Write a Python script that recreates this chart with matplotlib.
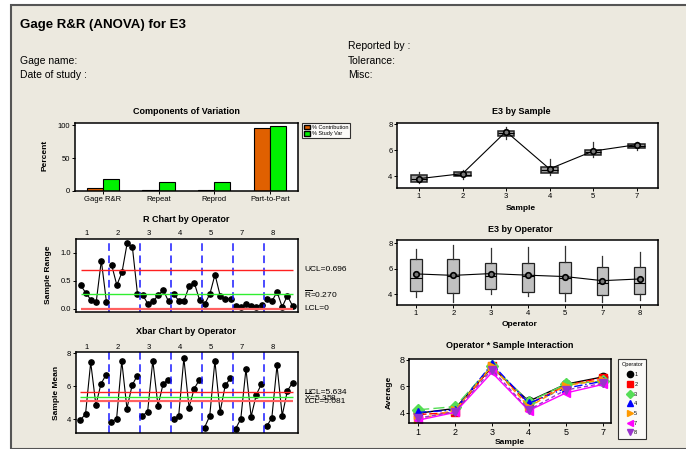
import matplotlib
matplotlib.use('Agg')
import matplotlib.pyplot as plt
from matplotlib.patches import Rectangle, Patch
from matplotlib.lines import Line2D
import numpy as np

plt.rcParams['font.family'] = ['Liberation Sans', 'DejaVu Sans']
plt.rcParams['mathtext.fontset'] = 'custom'
plt.rcParams['mathtext.rm'] = 'Liberation Sans'

W, H = 686, 449

operators = ['1', '2', '3', '4', '5', '7', '8']
samples = ['1', '2', '3', '4', '5', '7']

# components of variation (%)
components = ['Gage R&R', 'Repeat', 'Reprod', 'Part-to-Part']
pct_contribution = [3.4, 1.8, 1.7, 96.6]
pct_study_var = [18.4, 13.4, 13.0, 98.3]

# sample ranges, one row per operator, columns follow the sample order
ranges = [
    [0.42, 0.28, 0.155, 0.11, 0.86, 0.11],
    [0.78, 0.42, 0.65, 1.17, 1.11, 0.26],
    [0.24, 0.09, 0.13, 0.24, 0.33, 0.13],
    [0.26, 0.14, 0.14, 0.40, 0.46, 0.155],
    [0.08, 0.26, 0.61, 0.23, 0.18, 0.17],
    [0.05, 0.03, 0.08, 0.05, 0.03, 0.07],
    [0.18, 0.13, 0.30, 0.03, 0.23, 0.05],
]
# sample means, same layout
means = [
    [3.96, 4.32, 7.45, 4.87, 6.16, 6.71],
    [3.86, 4.02, 7.54, 4.65, 6.06, 6.65],
    [4.22, 4.46, 7.56, 4.81, 6.16, 6.40],
    [4.02, 4.20, 7.70, 4.71, 5.86, 6.38],
    [3.50, 4.20, 7.54, 4.44, 6.06, 6.48],
    [3.43, 4.02, 7.05, 4.16, 5.49, 6.14],
    [3.58, 4.08, 7.27, 4.22, 5.72, 6.22],
]
r_ucl, r_bar, r_lcl = 0.696, 0.270, 0.0
x_ucl, x_bar, x_lcl = 5.634, 5.358, 5.081

# box summaries by sample
smp_lo = [3.45, 3.75, 6.90, 4.10, 5.50, 6.00]
smp_q1 = [3.50, 3.98, 7.10, 4.20, 5.62, 6.15]
smp_med = [3.75, 4.10, 7.35, 4.45, 5.85, 6.35]
smp_q3 = [4.05, 4.28, 7.50, 4.70, 6.00, 6.50]
smp_hi = [4.30, 4.45, 7.80, 5.30, 6.60, 6.60]

# box summaries by operator
op_lo = [3.79, 3.40, 4.03, 3.87, 3.48, 3.40, 3.56]
op_q1 = [4.26, 4.10, 4.39, 4.18, 4.10, 3.92, 4.03]
op_med = [5.28, 5.40, 5.45, 5.40, 5.25, 4.86, 4.85]
op_q3 = [6.72, 6.72, 6.40, 6.40, 6.48, 6.12, 6.10]
op_hi = [7.50, 7.84, 7.58, 7.66, 7.74, 7.00, 7.27]

means = np.array(means)
ranges = np.array(ranges)

fig = plt.figure(figsize=(W / 100, H / 100), dpi=100)
fig.patch.set_facecolor('white')
fig.patches.append(Rectangle((11 / W, 0), 1, 1 - 5 / H, transform=fig.transFigure,
                             facecolor='#ECE9DF', edgecolor='#555555', lw=1.5, zorder=-10))


def px_axes(l, t, r, b):
    ax = fig.add_axes([l / W, 1 - b / H, (r - l) / W, (b - t) / H])
    for s in ax.spines.values():
        s.set_linewidth(1.1)
    ax.tick_params(direction='out', length=2, width=0.7, labelsize=5.5, pad=1.5)
    return ax


def ftext(x, y, s, **kw):
    kw.setdefault('va', 'center')
    fig.text(x / W, 1 - y / H, s, **kw)


# header
ftext(20, 25, 'Gage R&R (ANOVA) for E3', fontsize=9.5, fontweight='bold')
ftext(20, 61, 'Gage name:', fontsize=7.5)
ftext(20, 75, 'Date of study :', fontsize=7.5)
ftext(348, 46, 'Reported by :', fontsize=7.5)
ftext(348, 61, 'Tolerance:', fontsize=7.5)
ftext(348, 75, 'Misc:', fontsize=7.5)

title_kw = dict(fontsize=6.5, fontweight='bold', ha='center')
lab_kw = dict(fontsize=6, fontweight='bold', ha='center')

# Components of Variation
ax = px_axes(75, 122.7, 297.7, 190.7)
xc = np.arange(len(components))
ax.bar(xc, pct_contribution, width=-0.29, align='edge', color='#E06000', edgecolor='black', lw=0.8)
ax.bar(xc, pct_study_var, width=0.29, align='edge', color='#00F000', edgecolor='black', lw=0.8)
ax.set_xlim(-0.5, 3.5)
ax.set_ylim(0, 104)
ax.set_xticks(xc)
ax.set_xticklabels(components)
ax.set_yticks([0, 50, 100])
ftext(186, 112, 'Components of Variation', **title_kw)
ftext(45, 155, 'Percent', rotation=90, **lab_kw)
leg = ax.legend([Patch(facecolor='#E06000', edgecolor='black'), Patch(facecolor='#00F000', edgecolor='black')],
                ['% Contribution', '% Study Var'], loc='upper left',
                bbox_to_anchor=(302 / W, 1 - 123 / H), bbox_transform=fig.transFigure,
                fontsize=4, frameon=True, fancybox=False, borderaxespad=0, handlelength=1.2,
                handleheight=0.9, handletextpad=0.3, borderpad=0.3, labelspacing=0.2)
leg.get_frame().set_edgecolor('black')
leg.get_frame().set_linewidth(0.8)

# R chart and Xbar chart by operator
pos = np.arange(1, ranges.size + 1)
n = len(samples)


def control_chart(ax, data, ucl, cl, lcl, lbl_y):
    for i in range(len(operators)):
        ax.plot(pos[i * n:(i + 1) * n], data[i], '-o', color='black', lw=0.8, ms=3.8)
    for i in range(1, len(operators)):
        ax.axvline(i * n + 0.5, color='#1a1aff', lw=1.1, ls=(0, (5, 3)))
    ax.hlines([ucl, cl, lcl], 1, pos[-1], colors=['#ff2020', '#30ee30', '#ff6060'], lw=[1.0, 1.0, 1.6])
    ax.set_xlim(0.1, 43)
    ax.set_xticks([])
    tr = ax.get_xaxis_transform()
    for i, op in enumerate(operators):
        ax.text(i * n + 2.2, lbl_y, op, transform=tr, ha='center', va='center', fontsize=5.5)
    return matplotlib.transforms.blended_transform_factory(ax.transAxes, ax.transData)


ax = px_axes(76, 239, 297.7, 312)
trl = control_chart(ax, ranges, r_ucl, r_bar, r_lcl, 1.08)
ax.set_ylim(-0.06, 1.245)
ax.set_yticks([0.0, 0.5, 1.0])
ax.set_yticklabels(['0.0', '0.5', '1.0'])
ax.text(1.028, r_ucl, f'UCL={r_ucl:.3f}', transform=trl, fontsize=6, va='center')
ax.text(1.028, r_bar, r'$\overline{\mathrm{R}}$' + f'={r_bar:.3f}', transform=trl, fontsize=6, va='center')
ax.text(1.028, r_lcl, 'LCL=0', transform=trl, fontsize=6, va='center')
ftext(186, 219, 'R Chart by Operator', **title_kw)
ftext(49, 275, 'Sample Range', rotation=90, **lab_kw)

ax = px_axes(75.7, 352.3, 297.7, 433.3)
trl = control_chart(ax, means, x_ucl, x_bar, x_lcl, 1.065)
ax.set_ylim(3.15, 8.06)
ax.set_yticks([4, 6, 8])
ax.text(1.028, x_ucl, f'UCL={x_ucl:.3f}', transform=trl, fontsize=6, va='center')
ax.text(1.028, x_bar, r'$\overline{\mathrm{X}}$' + f'={x_bar:.3f}', transform=trl, fontsize=6, va='center')
ax.text(1.028, x_lcl, f'LCL={x_lcl:.3f}', transform=trl, fontsize=6, va='center')
ftext(186, 332, 'Xbar Chart by Operator', **title_kw)
ftext(56.7, 393, 'Sample Mean', rotation=90, **lab_kw)


def box_panel(ax, lo, q1, med, q3, hi, avg, width, face, edge_lw):
    stats = [dict(whislo=a, q1=b, med=c, q3=d, whishi=e, fliers=[])
             for a, b, c, d, e in zip(lo, q1, med, q3, hi)]
    xs = np.arange(1, len(stats) + 1)
    ax.bxp(stats, positions=xs, widths=width, patch_artist=True, showcaps=False,
           boxprops=dict(facecolor=face, edgecolor='#222222', lw=edge_lw),
           medianprops=dict(color='black', lw=0.8),
           whiskerprops=dict(color='#333333', lw=0.9))
    ax.plot(xs, avg, '-o', color='black', lw=0.8, ms=4, mfc='#777777', mec='black', mew=1.2, zorder=5)
    ax.set_xlim(0.5, len(stats) + 0.5)
    return xs


# E3 by Sample
ax = px_axes(397.3, 123.3, 658.3, 188.3)
xs = box_panel(ax, smp_lo, smp_q1, smp_med, smp_q3, smp_hi, means.mean(axis=0), 0.38, '#a0a0a0', 1.1)
ax.set_xticks(xs)
ax.set_xticklabels(samples)
ax.set_ylim(3.05, 8.08)
ax.set_yticks([4, 6, 8])
ftext(521, 112, 'E3 by Sample', **title_kw)
ftext(521, 208, 'Sample', **lab_kw)

# E3 by Operator
ax = px_axes(397.3, 239.7, 658.3, 305)
xs = box_panel(ax, op_lo, op_q1, op_med, op_q3, op_hi, means.mean(axis=1), 0.31, '#c0c0c0', 0.9)
ax.set_xticks(xs)
ax.set_xticklabels(operators)
ax.set_ylim(3.14, 8.26)
ax.set_yticks([4, 6, 8])
ftext(520, 230, 'E3 by Operator', **title_kw)
ftext(520, 324, 'Operator', **lab_kw)

# Operator * Sample Interaction
ax = px_axes(409.3, 359.3, 610.7, 422.7)
styles = [
    ('black', 'o', '-'),
    ('#ff0000', 's', (0, (6, 2))),
    ('#55dd55', 'D', (0, (8, 3))),
    ('#0000ff', '^', (0, (6, 2, 1, 2))),
    ('#ff9900', '>', (0, (4, 2))),
    ('#ff00ff', '<', '-'),
    ('#9933cc', 'v', (0, (3, 2))),
]
xs = np.arange(1, len(samples) + 1)
handles = []
for i, op in enumerate(operators):
    c, m, ls = styles[i]
    ax.plot(xs, means[i], color=c, ls=ls, lw=1.0)
    ax.plot(xs, means[i], ls='none', marker=m, color=c, ms=6)
    handles.append(Line2D([], [], ls='none', marker=m, color=c, ms=4.5))
ax.set_xlim(0.76, 6.22)
ax.set_ylim(3.24, 8.05)
ax.set_xticks(xs)
ax.set_xticklabels(samples)
ax.set_yticks([4, 6, 8])
ax.tick_params(labelsize=6.5)
ftext(510, 346, 'Operator * Sample Interaction', **title_kw)
ftext(510, 443, 'Sample', **lab_kw)
ftext(389, 392, 'Average', rotation=90, **lab_kw)
leg = ax.legend(handles, operators, title='Operator', loc='upper left',
                bbox_to_anchor=(618 / W, 1 - 359 / H), bbox_transform=fig.transFigure,
                fontsize=4, title_fontsize=4, frameon=True, fancybox=False, borderaxespad=0,
                handlelength=1.0, handletextpad=0.3, borderpad=0.6, labelspacing=0.85)
leg.get_frame().set_edgecolor('black')
leg.get_frame().set_linewidth(0.8)

fig.savefig('out.png', dpi=100, facecolor=fig.get_facecolor())
